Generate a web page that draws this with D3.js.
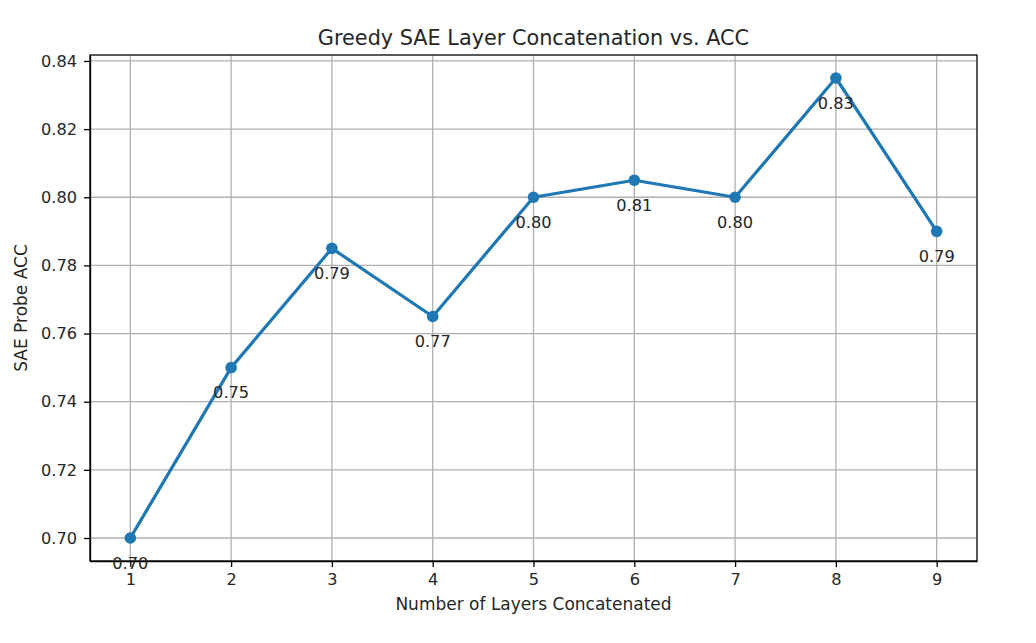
<!DOCTYPE html>
<html>
<head>
<meta charset="utf-8">
<script src="https://cdn.jsdelivr.net/npm/d3@7"></script>
<style>
  body { margin: 0; background: #fff; }
  text { font-family: "DejaVu Sans", sans-serif; fill: #262626; }
  .grid line { stroke: #b0b0b0; stroke-width: 1.3; }
  .axis path, .axis line { stroke: #000; stroke-width: 1.3; }
  .axis text { font-size: 16.2px; }
</style>
</head>
<body>
<svg id="chart"></svg>
<script>
var layers = [1, 2, 3, 4, 5, 6, 7, 8, 9];
var acc = [0.70, 0.75, 0.785, 0.765, 0.80, 0.805, 0.80, 0.835, 0.79];
var accLabels = ["0.70", "0.75", "0.79", "0.77", "0.80", "0.81", "0.80", "0.83", "0.79"];
var yTicks = [0.70, 0.72, 0.74, 0.76, 0.78, 0.80, 0.82, 0.84];

const W = 1036, H = 643;
const margin = { top: 55, right: 59, bottom: 82, left: 90 };
const width = W - margin.left - margin.right;
const height = H - margin.top - margin.bottom;

var svg = d3.select("#chart").attr("width", W).attr("height", H);
var g = svg.append("g").attr("transform", "translate(" + margin.left + "," + margin.top + ")");

var x = d3.scaleLinear().domain([0.6, 9.4]).range([0, width]);
var y = d3.scaleLinear().domain([0.69325, 0.84175]).range([height, 0]);

// grid
g.append("g").attr("class", "grid")
    .selectAll("line.v").data(layers).enter().append("line")
    .attr("x1", d => x(d)).attr("x2", d => x(d))
    .attr("y1", 0).attr("y2", height);
g.append("g").attr("class", "grid")
    .selectAll("line.h").data(yTicks).enter().append("line")
    .attr("x1", 0).attr("x2", width)
    .attr("y1", d => y(d)).attr("y2", d => y(d));

// axes
g.append("g").attr("class", "axis")
    .attr("transform", "translate(0," + height + ")")
    .call(d3.axisBottom(x).tickValues(layers).tickFormat(d3.format("d")).tickSizeInner(6).tickSizeOuter(0).tickPadding(6));
g.append("g").attr("class", "axis")
    .call(d3.axisLeft(y).tickValues(yTicks).tickFormat(d3.format(".2f")).tickSizeInner(6).tickSizeOuter(0).tickPadding(7));

g.append("rect").attr("width", width).attr("height", height)
    .attr("fill", "none").attr("stroke", "#000").attr("stroke-width", 1.3);

// line + markers
var line = d3.line().x((d, i) => x(layers[i])).y(d => y(d));
g.append("path").datum(acc)
    .attr("d", line).attr("fill", "none")
    .attr("stroke", "#1f77b4").attr("stroke-width", 3.2)
    .attr("stroke-linejoin", "round").attr("stroke-linecap", "square");
g.selectAll(".dot").data(acc).enter().append("circle")
    .attr("cx", (d, i) => x(layers[i])).attr("cy", d => y(d))
    .attr("r", 5.8).attr("fill", "#1f77b4");

// value labels
g.selectAll(".lab").data(acc).enter().append("text")
    .attr("x", (d, i) => x(layers[i])).attr("y", d => y(d) + 30.5)
    .attr("text-anchor", "middle").style("font-size", "16.2px")
    .text((d, i) => accLabels[i]);

// title and axis labels
svg.append("text").attr("x", margin.left + width / 2).attr("y", 45)
    .attr("text-anchor", "middle").style("font-size", "20.8px")
    .text("Greedy SAE Layer Concatenation vs. ACC");
svg.append("text").attr("x", margin.left + width / 2).attr("y", 610)
    .attr("text-anchor", "middle").style("font-size", "17px")
    .text("Number of Layers Concatenated");
svg.append("text").attr("transform", "translate(27," + (margin.top + height / 2) + ") rotate(-90)")
    .attr("text-anchor", "middle").style("font-size", "17px")
    .text("SAE Probe ACC");
</script>
</body>
</html>
